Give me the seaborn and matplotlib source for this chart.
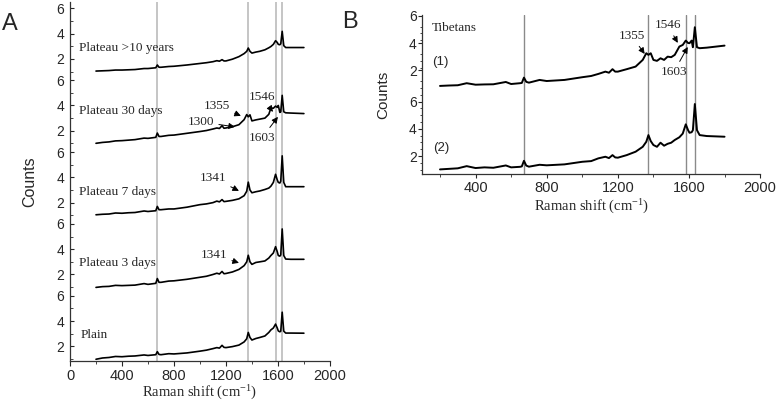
import pandas as pd
import seaborn as sns
import matplotlib.pyplot as plt

# ---- data (local counts per trace) ----
shift_a = [200, 250, 300, 350, 400, 450, 500, 570, 600, 660, 672, 685, 700, 760, 800,
           900, 1000, 1050, 1100, 1130, 1150, 1170, 1185, 1200, 1250, 1300, 1340, 1360,
           1372, 1385, 1400, 1430, 1460, 1500, 1530, 1546, 1565, 1582, 1595, 1603, 1615,
           1622, 1633, 1645, 1660, 1700, 1800]

plain = [0.98, 1.08, 1.12, 1.20, 1.18, 1.22, 1.24, 1.32, 1.28, 1.34, 1.58, 1.36, 1.34, 1.42, 1.40,
         1.48, 1.62, 1.70, 1.82, 1.90, 1.86, 2.08, 1.92, 1.90, 1.98, 2.10, 2.35, 2.60,
         3.10, 2.70, 2.50, 2.62, 2.70, 2.82, 3.10, 3.30, 3.45, 3.76, 3.45, 3.22, 3.15,
         3.20, 4.70, 3.20, 3.05, 3.05, 3.04]
days_3 = [0.98, 1.04, 1.06, 1.14, 1.12, 1.14, 1.16, 1.28, 1.22, 1.30, 1.68, 1.38, 1.38, 1.48, 1.50,
          1.62, 1.78, 1.86, 2.00, 2.10, 2.04, 2.24, 2.06, 2.08, 2.20, 2.40, 2.70, 3.00,
          3.52, 3.00, 2.80, 2.95, 3.00, 3.07, 3.30, 3.50, 3.70, 4.20, 3.80, 3.50, 3.45,
          3.55, 5.60, 3.50, 3.22, 3.20, 3.20]
days_7 = [1.04, 1.08, 1.10, 1.18, 1.16, 1.20, 1.22, 1.34, 1.30, 1.36, 1.70, 1.44, 1.44, 1.50, 1.50,
          1.64, 1.84, 1.90, 2.00, 2.12, 2.06, 2.24, 2.08, 2.10, 2.18, 2.30, 2.55, 2.90,
          3.62, 3.00, 2.78, 2.86, 2.92, 3.04, 3.15, 3.30, 3.60, 4.24, 3.80, 3.60, 3.55,
          3.70, 5.70, 3.60, 3.26, 3.26, 3.26]
days_30 = [1.01, 1.08, 1.12, 1.20, 1.22, 1.26, 1.30, 1.42, 1.40, 1.48, 1.82, 1.55, 1.55, 1.64, 1.66,
           1.80, 1.94, 2.02, 2.14, 2.22, 2.18, 2.40, 2.20, 2.22, 2.32, 2.48, 2.88, 3.28,
           3.10, 3.26, 2.78, 2.86, 2.92, 3.00, 3.30, 3.80, 3.78, 3.95, 3.85, 4.00, 3.45,
           3.50, 4.80, 3.50, 3.42, 3.40, 3.36]
years_10 = [1.04, 1.06, 1.08, 1.12, 1.12, 1.14, 1.16, 1.24, 1.24, 1.30, 1.52, 1.34, 1.34, 1.40, 1.42,
            1.52, 1.64, 1.70, 1.78, 1.86, 1.82, 1.94, 1.84, 1.84, 1.98, 2.18, 2.42, 2.60,
            2.86, 2.60, 2.46, 2.54, 2.60, 2.72, 2.88, 2.98, 3.15, 3.44, 3.30, 3.15, 3.12,
            3.20, 4.18, 3.05, 2.90, 2.90, 2.90]

shift_b = [200, 250, 300, 350, 400, 450, 500, 570, 600, 650, 660, 672, 685, 700, 760, 800,
           900, 1000, 1050, 1090, 1130, 1150, 1170, 1185, 1200, 1250, 1300, 1340, 1360,
           1372, 1385, 1400, 1420, 1440, 1460, 1480, 1500, 1520, 1546, 1565, 1582, 1595,
           1603, 1615, 1622, 1633, 1645, 1660, 1700, 1800]
tibetan_1 = [0.85, 0.88, 0.90, 1.05, 0.94, 0.96, 0.97, 1.14, 0.99, 1.05, 1.07, 1.46, 1.15, 1.09, 1.29, 1.21,
             1.29, 1.49, 1.58, 1.73, 1.90, 1.82, 2.08, 1.90, 1.90, 2.08, 2.27, 2.76, 3.25,
             3.13, 3.25, 2.76, 2.69, 2.88, 2.76, 3.00, 2.96, 3.13, 3.74, 3.86, 4.18, 4.00,
             3.99, 4.18, 3.69, 5.16, 3.69, 3.62, 3.66, 3.81]
tibetan_2 = [1.02, 1.06, 1.10, 1.26, 1.12, 1.17, 1.14, 1.31, 1.17, 1.21, 1.24, 1.65, 1.30, 1.22, 1.36, 1.32,
             1.39, 1.58, 1.63, 1.83, 1.95, 1.85, 2.07, 1.90, 1.88, 2.07, 2.32, 2.68, 3.05,
             3.54, 3.10, 2.81, 2.68, 2.98, 2.76, 2.90, 2.98, 3.18, 3.38, 3.65, 4.33, 3.90,
             3.71, 3.75, 3.90, 5.82, 3.90, 3.54, 3.47, 3.42]

names_a = ['Plain', 'Plateau 3 days', 'Plateau 7 days', 'Plateau 30 days', 'Plateau >10 years']
traces_a = [plain, days_3, days_7, days_30, years_10]
names_b = ['(2)', '(1)']
traces_b = [tibetan_2, tibetan_1]
peak_lines = [672, 1372, 1582, 1633]

seg_a = 5.68   # vertical stacking step, panel A
seg_b = 6.3    # vertical stacking step, panel B

sns.set_style('ticks')
plt.rcParams['font.family'] = ['Liberation Sans', 'DejaVu Sans']
plt.rcParams['mathtext.fontset'] = 'custom'
plt.rcParams['mathtext.rm'] = 'Liberation Serif'
plt.rcParams['mathtext.it'] = 'Liberation Serif:italic'
serif = 'Liberation Serif'

rows = []
for k, (name, vals) in enumerate(zip(names_a, traces_a)):
    for x, v in zip(shift_a, vals):
        rows.append({'sample': name, 'shift': x, 'counts': v + k * seg_a})
df_a = pd.DataFrame(rows)

rows = []
for k, (name, vals) in enumerate(zip(names_b, traces_b)):
    for x, v in zip(shift_b, vals):
        rows.append({'sample': name, 'shift': x, 'counts': v + k * seg_b})
df_b = pd.DataFrame(rows)

fig = plt.figure(figsize=(7.78, 4.01), dpi=100)
ax_a = fig.add_axes([0.090, 0.100, 0.334, 0.896])
ax_b = fig.add_axes([0.5427, 0.566, 0.4343, 0.397])

# ---- panel A ----
for x in peak_lines:
    ax_a.axvline(x, color='#b5b5b5', lw=1.1, zorder=0)
sns.lineplot(data=df_a, x='shift', y='counts', units='sample', estimator=None,
             color='black', lw=1.2, ax=ax_a)
ax_a.set_xlim(0, 2000)
ax_a.set_ylim(0.85, 0.85 + 5 * seg_a)
ax_a.set_xticks(range(0, 2001, 400))
ax_a.set_xticks(range(200, 2000, 400), minor=True)
yt, ym = [], []
for k in range(5):
    yt += [2 + k * seg_a, 4 + k * seg_a, 6 + k * seg_a]
    ym += [1 + k * seg_a, 3 + k * seg_a, 5 + k * seg_a]
ax_a.set_yticks(yt)
ax_a.set_yticklabels(['2', '4', '6'] * 5)
ax_a.set_yticks([m for m in ym if m > 0.85], minor=True)
ax_a.tick_params(axis='y', which='both', direction='in', labelsize=10, pad=4)
ax_a.tick_params(axis='y', which='major', length=3)
ax_a.tick_params(axis='y', which='minor', length=2)
ax_a.tick_params(axis='x', which='major', direction='out', length=3.5, labelsize=10.5, pad=2)
ax_a.tick_params(axis='x', which='minor', direction='out', length=2)
ax_a.set_xlabel(r'Raman shift (cm$^{\mathregular{-1}}$)', family=serif, fontsize=10.5)
ax_a.xaxis.set_label_coords(0.5, -0.065)
ax_a.set_ylabel('Counts', fontsize=11.5)
ax_a.yaxis.set_label_coords(-0.125, 0.5)

label_pos_a = [(85, 2.91), (69, 8.60), (69, 14.21), (69, 20.61), (69, 25.59)]
for name, (x, y) in zip(names_a, label_pos_a):
    ax_a.text(x, y, name, family=serif, fontsize=9.5, ha='left', va='center')

arrow = dict(arrowstyle='-|>', color='black', lw=0.7, mutation_scale=9, shrinkA=1, shrinkB=0)
notes_a = [('1355', (1315, 20.22), (1131, 21.01)),
           ('1300', (1269, 19.35), (1008, 19.74)),
           ('1546', (1562, 20.53), (1477, 21.72)),
           ('1603', (1600, 20.14), (1477, 18.48)),
           ('1341', (1300, 14.29), (1100, 15.32)),
           ('1341', (1300, 8.60), (1108, 9.23))]
for txt, xy, xyt in notes_a:
    ax_a.annotate(txt, xy=xy, xytext=xyt, ha='center', va='center', family=serif,
                  fontsize=9.5, arrowprops=arrow)

# ---- panel B ----
for x in peak_lines:
    ax_b.axvline(x, color='#8a8a8a', lw=1.0, zorder=0)
sns.lineplot(data=df_b, x='shift', y='counts', units='sample', estimator=None,
             color='black', lw=1.4, ax=ax_b)
ax_b.set_xlim(100, 2000)
ax_b.set_ylim(0.68, 12.37)
ax_b.set_xticks(range(400, 2001, 400))
ax_b.set_xticks(range(200, 2000, 400), minor=True)
ax_b.set_yticks([2, 4, 6, 2 + seg_b, 4 + seg_b, 6 + seg_b])
ax_b.set_yticklabels(['2', '4', '6'] * 2)
ax_b.set_yticks([v / 2 for v in range(2, 25) if v % 4 != 0], minor=True)
ax_b.tick_params(axis='y', which='both', direction='out', labelsize=10, pad=1)
ax_b.tick_params(axis='y', which='major', length=3)
ax_b.tick_params(axis='y', which='minor', length=1.5)
ax_b.tick_params(axis='x', which='major', direction='out', length=3, labelsize=10.5, pad=2)
ax_b.tick_params(axis='x', which='minor', direction='out', length=2)
ax_b.set_xlabel(r'Raman shift (cm$^{\mathregular{-1}}$)', family=serif, fontsize=10.5)
ax_b.xaxis.set_label_coords(0.5, -0.15)
ax_b.set_ylabel('Counts', fontsize=11)
ax_b.yaxis.set_label_coords(-0.095, 0.5)

ax_b.text(154, 11.41, 'Tibetans', family=serif, fontsize=9.5, ha='left', va='center')
ax_b.text(154, 8.88, names_b[1], fontsize=9.5, ha='left', va='center')
ax_b.text(160, 2.59, names_b[0], fontsize=9.5, ha='left', va='center')
notes_b = [('1355', (1351, 9.50), (1278, 10.82)),
           ('1546', (1537, 10.31), (1481, 11.60)),
           ('1603', (1593, 10.01), (1515, 8.18))]
for txt, xy, xyt in notes_b:
    ax_b.annotate(txt, xy=xy, xytext=xyt, ha='center', va='center', family=serif,
                  fontsize=9.5, arrowprops=arrow)

for ax in (ax_a, ax_b):
    sns.despine(ax=ax)
    for s in ('left', 'bottom'):
        ax.spines[s].set_linewidth(0.9)
        ax.spines[s].set_color('#333333')

fig.text(10 / 778, 1 - 23.5 / 401, 'A', fontsize=17, ha='center', va='center')
fig.text(350 / 778, 1 - 22.5 / 401, 'B', fontsize=17, ha='center', va='center')

fig.savefig('out.png', dpi=100)
